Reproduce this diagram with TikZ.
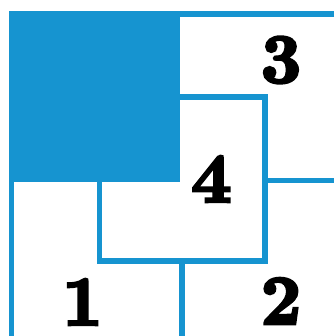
\documentclass[tikz,border=0pt]{standalone}
\usepackage{fontspec}
\usepackage{xcolor}
\usepackage{tikz}
\usetikzlibrary{positioning}
\newfontfamily\numfont[FakeBold=4]{lmroman10-bold.otf}
\definecolor{puzzleblue}{RGB}{22,148,208}

\begin{document}
\begin{tikzpicture}[x=1pt, y=1pt,
  wall/.style={line width=5.5pt, puzzleblue},
  num/.style={inner sep=0pt, font=\numfont\fontsize{70}{70}\selectfont}]
\useasboundingbox (0,0) rectangle (334,336);
\fill[white] (0,0) rectangle (334,336);

% shaded corner square
\fill[puzzleblue] (9,154) rectangle (180,324);

% outer border
\draw[wall] (334,322) -- (11.5,322) -- (11.5,0);

% square 4
\draw[wall] (178,239) -- (265,239) -- (265,75) -- (99.5,75) -- (99.5,156);

% remaining walls
\draw[wall] (265,155.5) -- (334,155.5);
\draw[wall] (182,75) -- (182,0);

% labels
\node[num] (n3) at (281,276) {3};
\node[num] (n4) at (211.5,157) {4};
\node[num] (n1) at (82.5,34) {1};
\node[num] (n2) at (281,35) {2};
\end{tikzpicture}
\end{document}
